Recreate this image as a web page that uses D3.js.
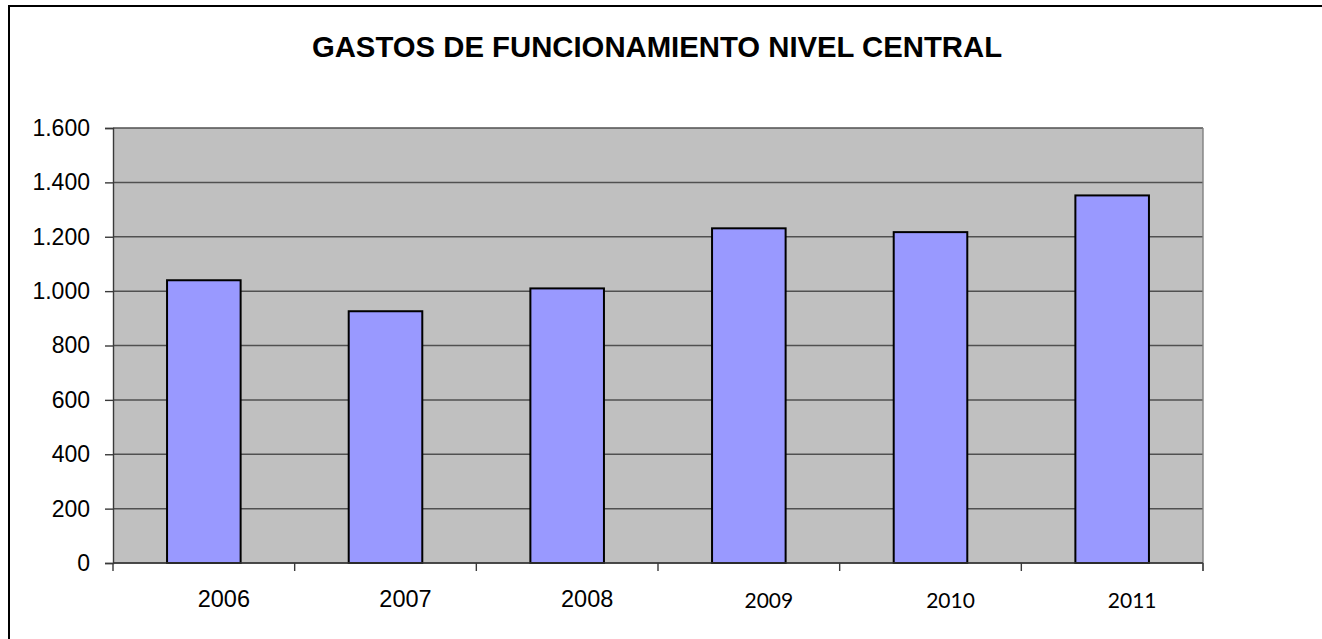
<!DOCTYPE html>
<html>
<head>
<meta charset="utf-8">
<script src="https://cdn.jsdelivr.net/npm/d3@7"></script>
<style>
  html, body { margin: 0; padding: 0; background: #fff; overflow: hidden; }
</style>
</head>
<body>
<svg id="chart" width="1322" height="639"></svg>
<script>
// chart data
const years = ["2006", "2007", "2008", "2009", "2010", "2011"];
const gastos = [1040, 926, 1010, 1231, 1217, 1352];
const yTicks = [0, 200, 400, 600, 800, 1000, 1200, 1400, 1600];
const chartTitle = "GASTOS DE FUNCIONAMIENTO NIVEL CENTRAL";

const svg = d3.select("#chart");
const plot = { left: 113, right: 1203, top: 128, bottom: 563 };

// outer frame (runs off the right and bottom of the page)
svg.append("rect")
    .attr("x", 9)
    .attr("y", 6)
    .attr("width", 1400)
    .attr("height", 700)
    .attr("fill", "#fff")
    .attr("stroke", "#000")
    .attr("stroke-width", 2);

svg.append("text")
    .attr("x", 657)
    .attr("y", 56.5)
    .attr("text-anchor", "middle")
    .attr("font-family", "'Liberation Sans', Arial, sans-serif")
    .attr("font-weight", "bold")
    .attr("font-size", "29.3px")
    .attr("fill", "#000")
    .text(chartTitle);

const x = d3.scaleBand()
    .domain(years)
    .range([plot.left, plot.right])
    .paddingInner(0.595)
    .paddingOuter(0.2975);

const y = d3.scaleLinear()
    .domain([0, 1600])
    .range([plot.bottom, plot.top]);

// plot background
svg.append("rect")
    .attr("x", plot.left)
    .attr("y", plot.top)
    .attr("width", plot.right - plot.left)
    .attr("height", plot.bottom - plot.top)
    .attr("fill", "#c0c0c0");

// gridlines
svg.append("g")
    .selectAll("line")
    .data(yTicks)
    .join("line")
    .attr("x1", plot.left)
    .attr("x2", plot.right)
    .attr("y1", d => y(d))
    .attr("y2", d => y(d))
    .attr("stroke", "#505050")
    .attr("stroke-width", 1.5);

// right edge of plot area
svg.append("line")
    .attr("x1", plot.right)
    .attr("x2", plot.right)
    .attr("y1", plot.top)
    .attr("y2", plot.bottom + 8)
    .attr("stroke", "#808080")
    .attr("stroke-width", 1.4);

// bars
svg.append("g")
    .selectAll("rect")
    .data(years.map((yr, i) => ({ yr, v: gastos[i] })))
    .join("rect")
    .attr("x", d => x(d.yr))
    .attr("y", d => y(d.v))
    .attr("width", x.bandwidth())
    .attr("height", d => y(0) - y(d.v))
    .attr("fill", "#9999ff")
    .attr("stroke", "#000")
    .attr("stroke-width", 2);

// y axis
const yAxis = svg.append("g")
    .attr("transform", `translate(${plot.left},0)`)
    .call(d3.axisLeft(y)
        .tickValues(yTicks)
        .tickSize(8)
        .tickPadding(15)
        .tickFormat(d => d3.format(",")(d).replace(/,/g, ".")));
yAxis.select(".domain").attr("stroke", "#3a3a3a").attr("stroke-width", 1.4);
yAxis.selectAll(".tick line").attr("stroke", "#3a3a3a").attr("stroke-width", 1.4);
yAxis.selectAll(".tick text")
    .attr("font-family", "'Liberation Sans', Arial, sans-serif")
    .attr("font-size", "23px")
    .attr("fill", "#000");

// x axis: ticks at category boundaries
const step = x.step();
const bounds = d3.range(years.length + 1).map(i => plot.left + i * step);
svg.append("g")
    .selectAll("line")
    .data(bounds)
    .join("line")
    .attr("x1", d => d)
    .attr("x2", d => d)
    .attr("y1", plot.bottom)
    .attr("y2", plot.bottom + 8)
    .attr("stroke", "#3a3a3a")
    .attr("stroke-width", 1.4);

svg.append("line")
    .attr("x1", plot.left)
    .attr("x2", plot.right)
    .attr("y1", plot.bottom)
    .attr("y2", plot.bottom)
    .attr("stroke", "#3a3a3a")
    .attr("stroke-width", 1.4);

// the last three labels come out in a different font in the original
svg.append("g")
    .selectAll("text")
    .data(years)
    .join("text")
    .attr("x", d => x(d) + x.bandwidth() / 2 + 20)
    .attr("y", (d, i) => i < 3 ? 607 : 608)
    .attr("text-anchor", "middle")
    .attr("font-family", (d, i) => i < 3 ? "'Liberation Sans', Arial, sans-serif" : "Lato, 'Open Sans', sans-serif")
    .attr("font-size", (d, i) => i < 3 ? "23.5px" : "21px")
    .attr("fill", "#000")
    .text(d => d);
</script>
</body>
</html>
